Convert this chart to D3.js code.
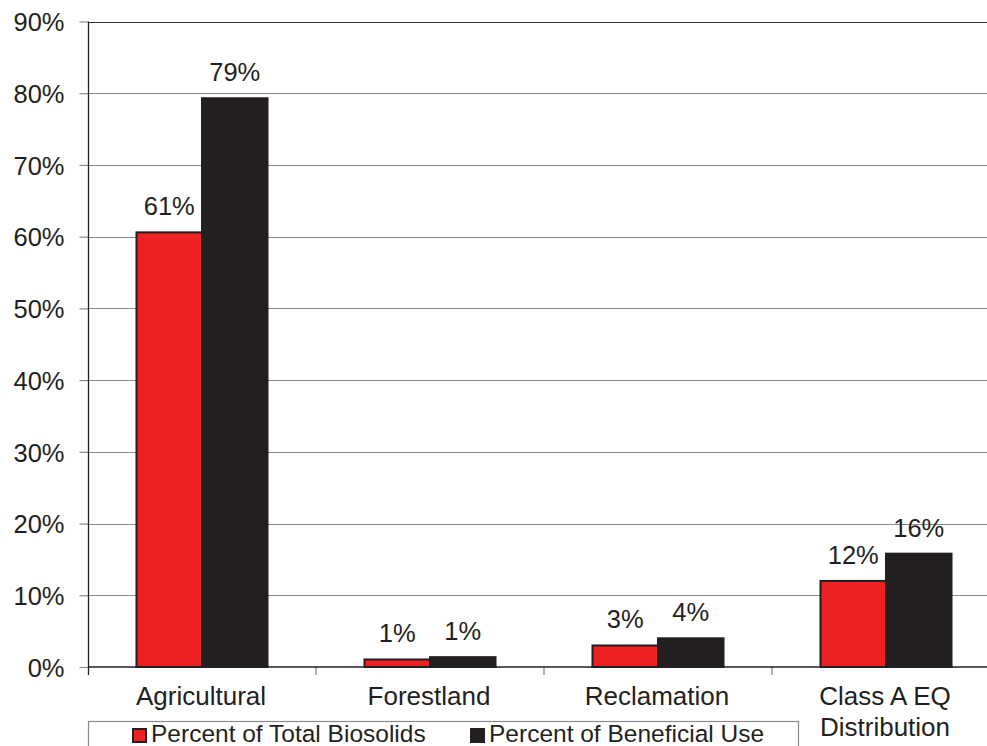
<!DOCTYPE html>
<html>
<head>
<meta charset="utf-8">
<script src="https://cdn.jsdelivr.net/npm/d3@7"></script>
<style>
  body { margin: 0; background: #fff; }
  svg { display: block; font-family: "Liberation Sans", Arial, Helvetica, sans-serif; }
</style>
</head>
<body>
<div id="chart"></div>
<script>
// values
const categories = ["Agricultural", "Forestland", "Reclamation", "Class A EQ Distribution"];
const categoryLines = [["Agricultural"], ["Forestland"], ["Reclamation"], ["Class A EQ", "Distribution"]];
const seriesNames = ["Percent of Total Biosolids", "Percent of Beneficial Use"];
const totalBiosolids = [0.606, 0.0105, 0.030, 0.120];
const beneficialUse = [0.793, 0.0137, 0.040, 0.158];
const totalLabels = ["61%", "1%", "3%", "12%"];
const useLabels = ["79%", "1%", "4%", "16%"];
const yTicks = [0, 0.1, 0.2, 0.3, 0.4, 0.5, 0.6, 0.7, 0.8, 0.9];
const seriesColors = ["#ed2024", "#231f20"];

const width = 987, height = 746;
const margin = { left: 88, top: 21.5, bottom: 79 };

const svg = d3.select("#chart").append("svg")
    .attr("width", width)
    .attr("height", height);

// x band spans past the right edge, like the cropped original
const x0 = d3.scaleBand()
    .domain(categories)
    .range([margin.left, margin.left + 4 * 228]);

const x1 = d3.scaleBand()
    .domain(seriesNames)
    .range([0, x0.bandwidth()])
    .paddingInner(0)
    .paddingOuter(0.74);

const y = d3.scaleLinear()
    .domain([0, 0.9])
    .range([height - margin.bottom, margin.top]);

const y0 = y(0);

// gridlines
svg.append("g")
    .selectAll("line")
    .data(yTicks.filter(d => d > 0))
    .join("line")
    .attr("x1", margin.left)
    .attr("x2", width)
    .attr("y1", d => Math.round(y(d)) + 0.5)
    .attr("y2", d => Math.round(y(d)) + 0.5)
    .attr("stroke", d => d === 0.9 ? "#333" : "#8a8a8a")
    .attr("stroke-width", 1.2);

// y axis
const yAxis = d3.axisLeft(y)
    .tickValues(yTicks)
    .tickFormat(d3.format(".0%"))
    .tickSize(9)
    .tickPadding(15);

const gy = svg.append("g")
    .attr("transform", `translate(${margin.left + 0.5},0)`)
    .call(yAxis);
gy.select(".domain").remove();
gy.selectAll(".tick line").attr("stroke", "#8a8a8a").attr("stroke-width", 1.2);
gy.selectAll(".tick text")
    .attr("fill", "#231f20")
    .style("font-size", "25.5px")
    .attr("dy", "0.36em");

svg.append("line")
    .attr("x1", margin.left + 0.5).attr("x2", margin.left + 0.5)
    .attr("y1", margin.top).attr("y2", y0 + 8)
    .attr("stroke", "#231f20").attr("stroke-width", 1.3);

// category boundary ticks
svg.append("g")
    .selectAll("line")
    .data(categories.slice(1))
    .join("line")
    .attr("x1", d => x0(d))
    .attr("x2", d => x0(d))
    .attr("y1", y0)
    .attr("y2", y0 + 8)
    .attr("stroke", "#8a8a8a")
    .attr("stroke-width", 1.3);

// bars
const rows = categories.map((c, i) => ({
    cat: c,
    vals: [
        { s: seriesNames[0], v: totalBiosolids[i], label: totalLabels[i], color: seriesColors[0] },
        { s: seriesNames[1], v: beneficialUse[i], label: useLabels[i], color: seriesColors[1] }
    ]
}));

const groups = svg.append("g")
    .selectAll("g")
    .data(rows)
    .join("g")
    .attr("transform", d => `translate(${x0(d.cat)},0)`);

groups.selectAll("rect")
    .data(d => d.vals)
    .join("rect")
    .attr("x", d => x1(d.s))
    .attr("y", d => y(d.v))
    .attr("width", x1.bandwidth())
    .attr("height", d => y0 - y(d.v))
    .attr("fill", d => d.color)
    .attr("stroke", "#231f20")
    .attr("stroke-width", 2);

groups.selectAll("text")
    .data(d => d.vals)
    .join("text")
    .attr("x", d => x1(d.s) + x1.bandwidth() / 2)
    .attr("y", d => y(d.v) - 17)
    .attr("text-anchor", "middle")
    .attr("fill", "#231f20")
    .style("font-size", "25.5px")
    .text(d => d.label);

// baseline
svg.append("line")
    .attr("x1", margin.left).attr("x2", width)
    .attr("y1", y0).attr("y2", y0)
    .attr("stroke", "#231f20").attr("stroke-width", 1.5);

// category labels
svg.append("g")
    .selectAll("text")
    .data(categories)
    .join("text")
    .attr("x", d => x0(d) + x0.bandwidth() / 2 - 1)
    .attr("y", 705)
    .attr("text-anchor", "middle")
    .attr("fill", "#231f20")
    .style("font-size", "26px")
    .each(function(d, i) {
        d3.select(this).selectAll("tspan")
            .data(categoryLines[i])
            .join("tspan")
            .attr("x", x0(d) + x0.bandwidth() / 2 - 1)
            .attr("dy", (t, j) => j === 0 ? 0 : 31)
            .text(t => t);
    });

// legend
const legend = svg.append("g");
legend.append("rect")
    .attr("x", 88.5).attr("y", 721.5)
    .attr("width", 710).attr("height", 40)
    .attr("fill", "#fff")
    .attr("stroke", "#8a8a8a")
    .attr("stroke-width", 1.2);

const legendX = [133, 471];
const items = legend.selectAll("g.item")
    .data(seriesNames)
    .join("g")
    .attr("class", "item")
    .attr("transform", (d, i) => `translate(${legendX[i]},729)`);

items.append("rect")
    .attr("width", 13).attr("height", 13)
    .attr("fill", (d, i) => seriesColors[i])
    .attr("stroke", "#231f20")
    .attr("stroke-width", 2);

items.append("text")
    .attr("x", 18)
    .attr("y", 13)
    .attr("fill", "#231f20")
    .style("font-size", "24.5px")
    .text(d => d);
</script>
</body>
</html>
